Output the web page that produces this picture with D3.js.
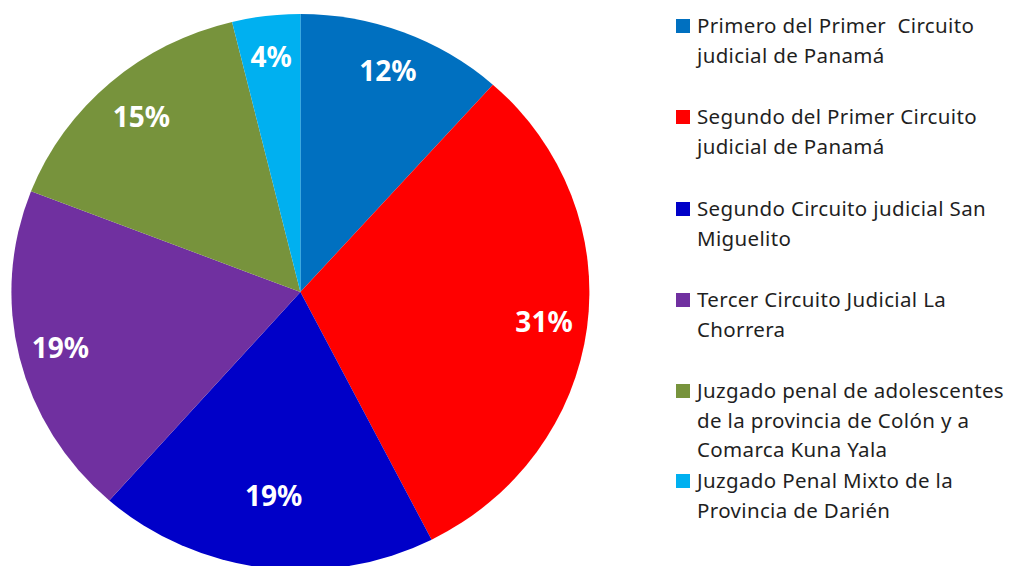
<!DOCTYPE html>
<html>
<head>
<meta charset="utf-8">
<script src="https://cdn.jsdelivr.net/npm/d3@7"></script>
<style>
  body { margin: 0; background: #fff; }
  svg text { font-family: "Noto Sans", "Open Sans", sans-serif; }
</style>
</head>
<body>
<div id="chart"></div>
<script>
var svgWidth = 1013;
var svgHeight = 566;

// data (slice sizes in %, labels shown rounded)
var categories = [
  "Primero del Primer  Circuito judicial de Panamá",
  "Segundo del Primer Circuito judicial de Panamá",
  "Segundo Circuito judicial San Miguelito",
  "Tercer Circuito Judicial La Chorrera",
  "Juzgado penal de adolescentes de la provincia de Colón y a Comarca Kuna Yala",
  "Juzgado Penal Mixto de la Provincia de Darién"
];
var values = [11.6, 30.9, 19.0, 19.4, 15.3, 3.8];
var colors = ["#0070C0", "#FF0000", "#0000C8", "#7030A0", "#77933C", "#00B0F0"];
// legend lines as wrapped in the original
var legendLines = [
  ["Primero del Primer  Circuito", "judicial de Panamá"],
  ["Segundo del Primer Circuito", "judicial de Panamá"],
  ["Segundo Circuito judicial San", "Miguelito"],
  ["Tercer Circuito Judicial La", "Chorrera"],
  ["Juzgado penal de adolescentes", "de la provincia de Colón y a", "Comarca Kuna Yala"],
  ["Juzgado Penal Mixto de la", "Provincia de Darién"]
];

// layout: the pie is drawn slightly squashed, like the original
var cx = 300.4, cy = 292, radius = 289, yScale = 278 / 289;
// how far out each percent label sits (fraction of radius)
var labelPos = [0.85, 0.85, 0.74, 0.855, 0.835, 0.85];

var svg = d3.select("#chart")
  .append("svg")
  .attr("width", svgWidth)
  .attr("height", svgHeight);

var total = d3.sum(values);
var data = values.map(function(v, i) {
  return { name: categories[i], value: v, color: colors[i], lines: legendLines[i] };
});

var pie = d3.pie()
  .sort(null)
  .value(d => d.value);

var arc = d3.arc()
  .innerRadius(0)
  .outerRadius(radius);

var pieGroup = svg.append("g")
  .attr("transform", `translate(${cx}, ${cy}) scale(1, ${yScale})`);

var arcs = pie(data);

pieGroup.selectAll("path")
  .data(arcs)
  .enter()
  .append("path")
  .attr("d", arc)
  .attr("fill", d => d.data.color);

function labelPoint(d, i) {
  var r = radius * labelPos[i];
  return d3.arc().innerRadius(r).outerRadius(r).centroid(d);
}

// percent labels (outside the scaled group so text is not squashed)
svg.append("g")
  .selectAll("text")
  .data(arcs)
  .enter()
  .append("text")
  .attr("x", (d, i) => cx + labelPoint(d, i)[0])
  .attr("y", (d, i) => cy + labelPoint(d, i)[1] * yScale)
  .attr("dy", "0.36em")
  .attr("text-anchor", "middle")
  .attr("fill", "#fff")
  .attr("font-weight", "bold")
  .attr("font-size", "28px")
  .text(d => Math.round(d.data.value / total * 100) + "%");

// legend
var legendTops = [26, 117, 209, 300, 391, 481];
var lineHeight = 29.5;

var legend = svg.append("g")
  .selectAll("g")
  .data(data)
  .enter()
  .append("g")
  .attr("transform", (d, i) => `translate(676, ${legendTops[i]})`);

legend.append("rect")
  .attr("x", 0)
  .attr("y", -7)
  .attr("width", 14)
  .attr("height", 14)
  .attr("fill", d => d.color);

legend.append("text")
  .attr("font-size", "20.5px")
  .attr("letter-spacing", "0.35px")
  .attr("fill", "#1f1f1f")
  .selectAll("tspan")
  .data(d => d.lines)
  .enter()
  .append("tspan")
  .attr("x", 21)
  .attr("y", (d, i) => i * lineHeight)
  .attr("dy", "0.36em")
  .style("white-space", "pre")
  .text(d => d);
</script>
</body>
</html>
